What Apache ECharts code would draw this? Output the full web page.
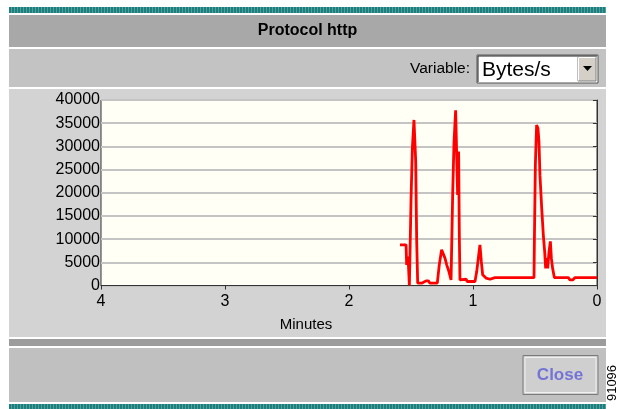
<!DOCTYPE html>
<html>
<head>
<meta charset="utf-8">
<script src="https://cdn.jsdelivr.net/npm/echarts@6/dist/echarts.min.js"></script>
<style>
html,body{margin:0;padding:0;background:#fff;}
#c{width:617px;height:409px;}
</style>
</head>
<body>
<div id="c"></div>
<script>
// Data: time before now (minutes) and traffic (bytes/s)
var minutes = [1.589,1.540,1.535,1.524,1.513,1.503,1.500,1.489,1.476,1.468,1.462,1.454,1.446,1.414,1.379,1.360,1.347,1.288,1.272,1.253,1.239,1.226,1.212,1.194,1.177,1.164,1.153,1.140,1.129,1.124,1.116,1.110,1.105,1.056,1.046,0.984,0.970,0.954,0.944,0.933,0.922,0.909,0.895,0.863,0.823,0.508,0.505,0.497,0.487,0.476,0.468,0.460,0.446,0.433,0.422,0.414,0.406,0.398,0.387,0.376,0.368,0.358,0.344,0.231,0.218,0.196,0.177,0.164,0.151,0.000];
var bytesPerSec = [8760,8760,4450,6250,0,0,18100,29600,35700,35300,26700,9500,500,500,1000,1000,500,500,4450,7700,8000,5900,4450,3000,1200,19500,31000,37800,38200,19500,28900,10200,1200,1350,860,860,3000,6600,8760,5200,2300,1900,1600,1350,1700,1700,9500,26000,34600,33900,31000,23800,16700,10900,7300,3700,5900,3700,7300,9500,5900,3700,1700,1700,1200,1200,1700,2100,1700,1700];
var xTicks = [0,1,2,3,4];
var yTicks = [0,5000,10000,15000,20000,25000,30000,35000,40000];
var titleText = 'Protocol http';
var variableLabel = 'Variable:';
var variableValue = 'Bytes/s';
var xAxisName = 'Minutes';
var buttonText = 'Close';
var figId = '91096';

var seriesData = minutes.map(function (m, i) { return [m, bytesPerSec[i]]; });

// teal striped pattern
var pat = document.createElement('canvas');
pat.width = 3; pat.height = 8;
var pc = pat.getContext('2d');
pc.fillStyle = '#1f7d7b'; pc.fillRect(0,0,3,8);
pc.fillStyle = '#4aa3a0'; pc.fillRect(2,0,1,8);

var FONT = 'Liberation Sans, Arial, sans-serif';
var chart = echarts.init(document.getElementById('c'), null, {renderer: 'canvas'});

var L = 9, R = 606, W = R - L;
var graphics = [
  {type:'rect', shape:{x:L,y:7,width:W,height:6}, style:{fill:{image:pat,repeat:'repeat'}}, z:-10},
  {type:'rect', shape:{x:L,y:15,width:W,height:32}, style:{fill:'#a8a8a8'}, z:-10},
  {type:'text', x:307.5, y:31, style:{text:titleText, font:'bold 16px ' + FONT, fill:'#000', textAlign:'center', textVerticalAlign:'middle'}, z:5},
  {type:'rect', shape:{x:L,y:49,width:W,height:38}, style:{fill:'#c3c3c3'}, z:-10},
  {type:'text', x:470, y:69, style:{text:variableLabel, font:'15.5px ' + FONT, fill:'#000', textAlign:'right', textVerticalAlign:'middle'}, z:5},
  {type:'rect', shape:{x:477,y:55,width:121,height:28}, style:{fill:'#fff', stroke:'#555', lineWidth:1}, z:4},
  {type:'polyline', shape:{points:[[478,82],[478,56],[597,56]]}, style:{stroke:'#222', lineWidth:1, fill:null}, z:5},
  {type:'text', x:482, y:70, style:{text:variableValue, font:'21px ' + FONT, fill:'#000', textAlign:'left', textVerticalAlign:'middle'}, z:5},
  {type:'rect', shape:{x:578,y:57,width:18,height:24}, style:{fill:'#d4d0c8', stroke:'#808080', lineWidth:1}, z:5},
  {type:'polyline', shape:{points:[[578.5,80.5],[578.5,57.5],[595.5,57.5]]}, style:{stroke:'#fff', lineWidth:1, fill:null}, z:6},
  {type:'polygon', shape:{points:[[583,66],[592,66],[587.5,71]]}, style:{fill:'#000'}, z:6},
  {type:'rect', shape:{x:L,y:89,width:W,height:248}, style:{fill:'#d3d3d3'}, z:-10},
  {type:'text', x:306, y:325, style:{text:xAxisName, font:'15px ' + FONT, fill:'#000', textAlign:'center', textVerticalAlign:'middle'}, z:5},
  {type:'rect', shape:{x:L,y:339,width:W,height:7}, style:{fill:'#9c9c9c'}, z:-10},
  {type:'rect', shape:{x:L,y:348,width:W,height:54}, style:{fill:'#c0c0c0'}, z:-10},
  {type:'rect', shape:{x:523,y:355.5,width:75,height:39}, style:{fill:'#cfcfcf', stroke:'#7a7a7a', lineWidth:1}, z:4},
  {type:'rect', shape:{x:525,y:357.5,width:71,height:35}, style:{fill:null, stroke:'#f0f0f0', lineWidth:1}, z:4},
  {type:'text', x:560, y:375, style:{text:buttonText, font:'bold 17px ' + FONT, fill:'#7474d6', textAlign:'center', textVerticalAlign:'middle'}, z:5},
  {type:'rect', shape:{x:L,y:404,width:W,height:5}, style:{fill:{image:pat,repeat:'repeat'}}, z:-10},
  {type:'text', x:612, y:383, rotation:Math.PI/2, style:{text:figId, font:'13px ' + FONT, fill:'#000', textAlign:'center', textVerticalAlign:'middle'}, z:5}
];

chart.setOption({
  animation: false,
  backgroundColor: '#fff',
  grid: {left:101, right:20, top:100, bottom:123.5, show:true, backgroundColor:'#fffff5', borderColor:'#333', borderWidth:1},
  xAxis: {
    type:'value', min:xTicks[0], max:xTicks[xTicks.length-1], interval:1, inverse:true,
    axisLine:{show:true, lineStyle:{color:'#333', width:1}},
    axisTick:{show:true, length:4, lineStyle:{color:'#333'}},
    axisLabel:{color:'#000', fontSize:16, fontFamily:FONT, margin:8, formatter:function(v){return String(v);}},
    splitLine:{show:false}
  },
  yAxis: {
    type:'value', min:yTicks[0], max:yTicks[yTicks.length-1], interval:5000,
    axisLine:{show:true, lineStyle:{color:'#333', width:1}},
    axisTick:{show:true, length:4, lineStyle:{color:'#333'}},
    axisLabel:{color:'#000', fontSize:16, fontFamily:FONT, margin:1, formatter:function(v){return String(v);}},
    splitLine:{show:true, lineStyle:{color:'#c4c4c4', width:2}}
  },
  series: [{
    type:'line', data:seriesData, showSymbol:false, symbol:'none',
    lineStyle:{color:'#ff0000', width:2.8}, z:3
  }],
  graphic: graphics
});
</script>
</body>
</html>
